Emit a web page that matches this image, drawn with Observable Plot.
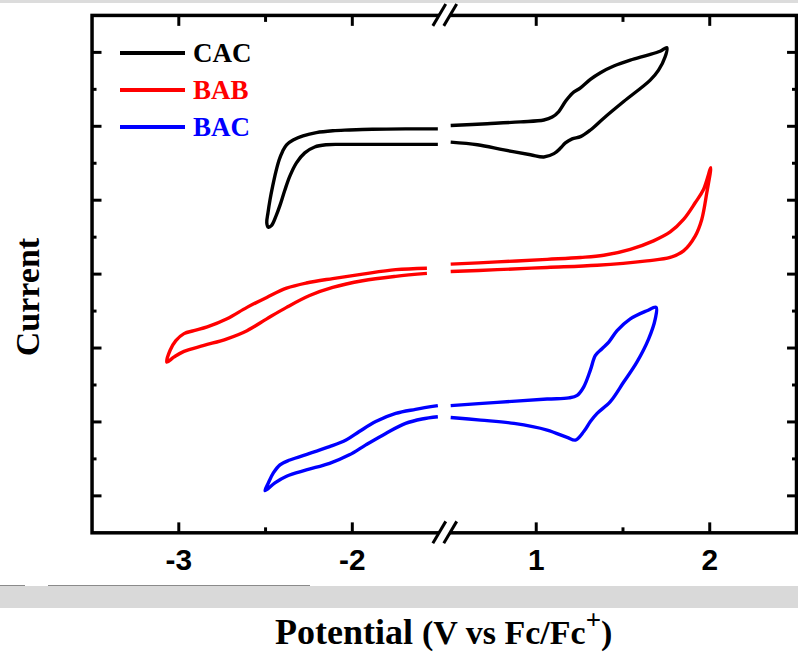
<!DOCTYPE html>
<html>
<head>
<meta charset="utf-8">
<script src="https://cdn.jsdelivr.net/npm/d3@7"></script>
<script src="https://cdn.jsdelivr.net/npm/@observablehq/plot@0.6"></script>
<style>
html, body { margin: 0; padding: 0; background: #fff; overflow: hidden; width: 798px; height: 654px; }
#wrap { position: relative; width: 798px; height: 654px; overflow: hidden; }
#chart { position: absolute; left: 0; top: 0; }
.topstrip { position: absolute; left: 0; top: 0; width: 798px; height: 3px; background: #dcdcdc; }
.band { position: absolute; left: 0; top: 586px; width: 798px; height: 22px; background: #d9d9d9; }
.bandline { position: absolute; top: 585px; height: 1px; background: #8a8a8a; }
.serif { font-family: "Liberation Serif", "Times New Roman", serif; font-weight: bold; }
#ylabel { position: absolute; left: 28px; top: 297px; transform: translate(-50%, -50%) rotate(-90deg); font-size: 34px; white-space: nowrap; }
#xlabel { position: absolute; left: 275px; top: 614px; white-space: nowrap; line-height: 1; }
#legend { position: absolute; left: 120px; top: 0; }
.leg { position: absolute; left: 0; display: flex; align-items: center; white-space: nowrap; }
.leg .sw { width: 65px; height: 3.5px; margin-right: 8px; }
.leg .lab { font-size: 27px; line-height: 1; }
</style>
</head>
<body>
<div id="wrap">
  <div id="chart"></div>
  <div class="topstrip"></div>
  <div class="band"></div>
  <div class="bandline" style="left:0;width:25px"></div>
  <div class="bandline" style="left:48px;width:262px"></div>
  <div id="ylabel" class="serif">Current</div>
  <div id="xlabel" class="serif"><span style="font-size:36px">Potential&nbsp;</span><span style="font-size:34px">(V vs Fc/Fc<sup style="font-size:27px;vertical-align:0.55em;line-height:0">+</sup>)</span></div>
  <div id="legend"></div>
</div>
<script>
// ---------- data ----------
const seriesNames = ["CAC", "BAB", "BAC"];
const seriesColors = ["#000000", "#ff0000", "#0000ff"];

const xTickValues = [-3, -2, 1, 2];
const xTickLabels = ["-3", "-2", "1", "2"];
const xMinorTicks = [-2.5, 1.5];
const leftRange = [-3.5, -1.5];
const rightRange = [0.5, 2.5];
const yMajorTicks = [1, 3, 5, 7, 9, 11, 13];
const yMinorTicks = [2, 4, 6, 8, 10, 12];
const yDomain = [0, 14];

// CAC
const cacLeftV = [-1.507, -1.693, -1.884, -2.017, -2.113, -2.207, -2.284, -2.341, -2.379, -2.402, -2.421, -2.44, -2.459, -2.474, -2.486, -2.493, -2.484, -2.465, -2.44, -2.417, -2.389, -2.36, -2.322, -2.274, -2.217, -2.15, -2.074, -1.884, -1.693, -1.507];
const cacLeftI = [10.93, 10.93, 10.92, 10.90, 10.88, 10.83, 10.74, 10.63, 10.50, 10.32, 10.10, 9.78, 9.38, 9.02, 8.66, 8.39, 8.27, 8.32, 8.57, 8.86, 9.27, 9.65, 10.01, 10.28, 10.44, 10.50, 10.51, 10.51, 10.51, 10.51];
const cacRightV = [0.507, 0.718, 0.91, 1.044, 1.092, 1.13, 1.168, 1.207, 1.255, 1.312, 1.37, 1.447, 1.542, 1.638, 1.714, 1.753, 1.743, 1.705, 1.657, 1.504, 1.389, 1.312, 1.255, 1.207, 1.168, 1.14, 1.102, 1.044, 0.967, 0.814, 0.661, 0.507];
const cacRightI = [11.02, 11.07, 11.12, 11.17, 11.25, 11.40, 11.67, 11.89, 12.04, 12.27, 12.45, 12.63, 12.79, 12.92, 13.03, 13.13, 12.88, 12.52, 12.25, 11.67, 11.22, 10.90, 10.72, 10.66, 10.55, 10.41, 10.26, 10.17, 10.23, 10.36, 10.50, 10.57];

// BAB
const babLeftV = [-1.57, -1.75, -1.941, -2.113, -2.265, -2.379, -2.493, -2.607, -2.722, -2.836, -2.913, -2.97, -3.017, -3.05, -3.069, -3.027, -2.97, -2.855, -2.722, -2.607, -2.493, -2.379, -2.246, -2.113, -1.941, -1.75, -1.57];
const babLeftI = [7.16, 7.12, 7.00, 6.88, 6.76, 6.62, 6.37, 6.10, 5.79, 5.57, 5.47, 5.39, 5.20, 4.94, 4.62, 4.76, 4.91, 5.07, 5.25, 5.47, 5.79, 6.10, 6.42, 6.64, 6.82, 6.94, 7.02];
const babRightV = [0.507, 0.776, 1.063, 1.255, 1.389, 1.542, 1.676, 1.772, 1.849, 1.916, 1.964, 2.006, 1.983, 1.954, 1.916, 1.849, 1.772, 1.638, 1.351, 1.063, 0.776, 0.507];
const babRightI = [7.27, 7.33, 7.40, 7.45, 7.51, 7.67, 7.90, 8.14, 8.48, 8.93, 9.29, 9.88, 9.20, 8.48, 8.03, 7.63, 7.45, 7.36, 7.24, 7.18, 7.12, 7.07];

// BAC
const bacLeftV = [-1.507, -1.636, -1.75, -1.865, -1.96, -2.036, -2.131, -2.246, -2.36, -2.417, -2.455, -2.484, -2.503, -2.446, -2.379, -2.265, -2.131, -2.017, -1.922, -1.807, -1.693, -1.598, -1.507];
const bacLeftI = [3.44, 3.34, 3.23, 3.01, 2.74, 2.51, 2.33, 2.15, 1.97, 1.84, 1.62, 1.35, 1.14, 1.35, 1.53, 1.70, 1.88, 2.11, 2.38, 2.69, 2.96, 3.08, 3.14];
const bacRightV = [0.507, 0.776, 1.063, 1.188, 1.236, 1.274, 1.312, 1.341, 1.379, 1.418, 1.466, 1.542, 1.638, 1.691, 1.686, 1.648, 1.58, 1.504, 1.427, 1.351, 1.312, 1.274, 1.226, 1.178, 1.063, 0.872, 0.68, 0.507];
const bacRightI = [3.44, 3.53, 3.62, 3.65, 3.72, 3.95, 4.40, 4.80, 4.98, 5.16, 5.47, 5.79, 6.01, 6.10, 5.79, 5.25, 4.62, 4.08, 3.55, 3.23, 3.01, 2.74, 2.51, 2.58, 2.78, 2.96, 3.05, 3.12];

// ---------- broken-axis transform ----------
const gapU = 0.06;
const leftSpan = leftRange[1] - leftRange[0];
function uOf(v) {
  return v <= (leftRange[1] + rightRange[0]) / 2 ? v - leftRange[0] : v - rightRange[0] + leftSpan + gapU;
}
const uMax = uOf(rightRange[1]);

const parts = [
  ["CAC", "L", cacLeftV, cacLeftI], ["CAC", "R", cacRightV, cacRightI],
  ["BAB", "L", babLeftV, babLeftI], ["BAB", "R", babRightV, babRightI],
  ["BAC", "L", bacLeftV, bacLeftI], ["BAC", "R", bacRightV, bacRightI]
];
const rows = [];
for (const [s, p, V, I] of parts) {
  V.forEach((v, k) => rows.push({series: s, seg: s + p, u: uOf(v), i: I[k]}));
}

const labelFor = d => {
  const k = xTickValues.findIndex(v => Math.abs(uOf(v) - d) < 1e-9);
  return k >= 0 ? xTickLabels[k] : "";
};
const blank = () => "";

const chart = Plot.plot({
  width: 802,
  height: 580,
  marginLeft: 92,
  marginRight: 2,
  marginTop: 15,
  marginBottom: 45,
  style: {fontFamily: "'Liberation Sans', Arial, sans-serif", background: "transparent", overflow: "visible"},
  x: {domain: [0, uMax]},
  y: {domain: yDomain},
  color: {domain: seriesNames, range: seriesColors},
  marks: [
    Plot.line(rows, {x: "u", y: "i", z: "seg", stroke: "series", strokeWidth: 3.4, curve: "catmull-rom", strokeLinejoin: "round", strokeLinecap: "butt"}),
    // bottom ticks (inward) + labels
    Plot.axisX({anchor: "bottom", ticks: xTickValues.map(uOf), tickSize: -10, strokeWidth: 3, tickFormat: blank, label: null}),
    Plot.axisX({anchor: "bottom", ticks: xMinorTicks.map(uOf), tickSize: -5, strokeWidth: 3, tickFormat: blank, label: null}),
    Plot.axisX({anchor: "bottom", ticks: xTickValues.map(uOf), tickSize: 0, tickPadding: 16, tickFormat: labelFor, fontSize: 30, fontWeight: "bold", fill: "#000", label: null}),
    // top ticks (mirror)
    Plot.axisX({anchor: "top", ticks: xTickValues.map(uOf), tickSize: -10, strokeWidth: 3, tickFormat: blank, label: null}),
    Plot.axisX({anchor: "top", ticks: xMinorTicks.map(uOf), tickSize: -6, strokeWidth: 3, tickFormat: blank, label: null}),
    // left / right ticks
    Plot.axisY({anchor: "left", ticks: yMajorTicks, tickSize: -10, strokeWidth: 3, tickFormat: blank, label: null}),
    Plot.axisY({anchor: "left", ticks: yMinorTicks, tickSize: -5, strokeWidth: 3, tickFormat: blank, label: null}),
    Plot.axisY({anchor: "right", ticks: yMajorTicks, tickSize: -10, strokeWidth: 3, tickFormat: blank, label: null}),
    Plot.axisY({anchor: "right", ticks: yMinorTicks, tickSize: -5, strokeWidth: 3, tickFormat: blank, label: null}),
    Plot.frame({stroke: "#000", strokeWidth: 3.5})
  ]
});
document.getElementById("chart").appendChild(chart);

// ---------- axis-break marks ----------
const xs = chart.scale("x");
const ys = chart.scale("y");
const bx = (xs.apply(uOf(leftRange[1])) + xs.apply(uOf(rightRange[0]))) / 2 + 1;
const g = d3.select(chart).append("g");
for (const yc of [ys.apply(yDomain[1]), ys.apply(yDomain[0])]) {
  g.append("polygon")
    .attr("points", `${bx - 12},${yc + 11} ${bx + 1},${yc - 11} ${bx + 12},${yc - 11} ${bx - 1},${yc + 11}`)
    .attr("fill", "#fff");
  g.append("line").attr("x1", bx - 12).attr("y1", yc + 11).attr("x2", bx + 1).attr("y2", yc - 11)
    .attr("stroke", "#000").attr("stroke-width", 3);
  g.append("line").attr("x1", bx - 1).attr("y1", yc + 11).attr("x2", bx + 12).attr("y2", yc - 11)
    .attr("stroke", "#000").attr("stroke-width", 3);
}

// ---------- legend ----------
const legend = document.getElementById("legend");
seriesNames.forEach((name, k) => {
  const row = document.createElement("div");
  row.className = "leg";
  row.style.top = (53 + 37 * k - 14) + "px";
  row.style.height = "28px";
  row.innerHTML = `<div class="sw" style="background:${seriesColors[k]}"></div><div class="lab serif" style="color:${seriesColors[k]}">${name}</div>`;
  legend.appendChild(row);
});
</script>
</body>
</html>
